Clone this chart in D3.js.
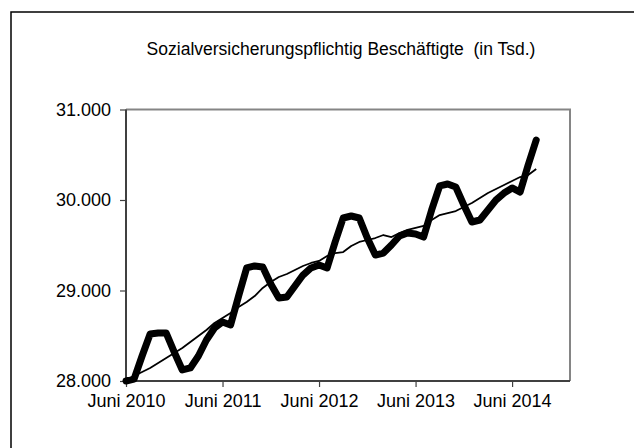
<!DOCTYPE html>
<html>
<head>
<meta charset="utf-8">
<script src="https://cdn.jsdelivr.net/npm/d3@7"></script>
<style>
  body { margin: 0; background: #fff; }
  svg text { font-family: "Liberation Sans", Arial, sans-serif; fill: #000; }
</style>
</head>
<body>
<svg id="chart" width="634" height="448"></svg>
<script>
// Monatswerte Juni 2010 .. September 2014 (in Tsd.)
const months = d3.range(52);
const original = [
  28000, 28020, 28276, 28519, 28530, 28530, 28320, 28122, 28144, 28276, 28453, 28586,
  28652, 28619, 28939, 29249, 29271, 29260, 29072, 28917, 28928, 29050, 29171, 29249,
  29282, 29249, 29536, 29801, 29823, 29801, 29580, 29392, 29414, 29503, 29602, 29635,
  29624, 29591, 29890, 30155, 30177, 30144, 29945, 29757, 29779, 29890, 30000, 30077,
  30133, 30088, 30387, 30663
];
const trend = [
  28022, 28055, 28099, 28144, 28199, 28254, 28309, 28365, 28431, 28497, 28564, 28641,
  28696, 28751, 28818, 28873, 28939, 29028, 29094, 29149, 29182, 29227, 29271, 29304,
  29326, 29381, 29414, 29425, 29492, 29536, 29558, 29580, 29613, 29591, 29635, 29669,
  29691, 29713, 29779, 29834, 29856, 29878, 29923, 29967, 30022, 30077, 30122, 30166,
  30210, 30254, 30276, 30343
];
const xTicks = [0, 12, 24, 36, 48];
const xLabels = ['Juni 2010', 'Juni 2011', 'Juni 2012', 'Juni 2013', 'Juni 2014'];
const yTicks = [28000, 29000, 30000, 31000];

const svg = d3.select('#chart');
const plot = { left: 126, right: 570, top: 109.5, bottom: 381 };

// outer chart border (only top and left visible in the frame)
svg.append('rect')
  .attr('x', 11).attr('y', 12)
  .attr('width', 700).attr('height', 500)
  .attr('fill', 'none')
  .attr('stroke', '#000')
  .attr('stroke-width', 1.5);

svg.append('text')
  .attr('x', 341).attr('y', 55)
  .attr('text-anchor', 'middle')
  .style('font-size', '17.5px')
  .style('white-space', 'pre')
  .text('Sozialversicherungspflichtig Beschäftigte  (in Tsd.)');

const x = d3.scaleLinear().domain([0, 55.2]).range([plot.left, plot.right]);
const y = d3.scaleLinear().domain([28000, 31000]).range([plot.bottom, plot.top]);

// plot frame: top and right in grey
svg.append('path')
  .attr('d', `M${plot.left},${plot.top}H${plot.right}V${plot.bottom}`)
  .attr('fill', 'none')
  .attr('stroke', '#858585')
  .attr('stroke-width', 2);

const fmt = d3.formatLocale({ decimal: ',', thousands: '.', grouping: [3], currency: ['', '€'] }).format(',.0f');

const yAxis = svg.append('g')
  .attr('transform', `translate(${plot.left},0)`)
  .call(d3.axisLeft(y).tickValues(yTicks).tickFormat(fmt).tickSize(6).tickPadding(9));

const xAxis = svg.append('g')
  .attr('transform', `translate(0,${plot.bottom})`)
  .call(d3.axisBottom(x).tickValues(xTicks).tickFormat((d, i) => xLabels[i]).tickSize(6).tickPadding(6));

[yAxis, xAxis].forEach(g => {
  g.select('.domain').remove();
  g.selectAll('.tick line').attr('stroke', '#404040').attr('stroke-width', 1.2);
  g.selectAll('text').style('font-size', '18px');
});
xAxis.selectAll('text').attr('dy', '0.75em');

// left and bottom axis lines
svg.append('path')
  .attr('d', `M${plot.left},${plot.top}V${plot.bottom}H${plot.right}`)
  .attr('fill', 'none')
  .attr('stroke', '#404040')
  .attr('stroke-width', 2);

const line = (vals) => d3.line()
  .x((d, i) => x(months[i]))
  .y(d => y(d))(vals);

svg.append('path')
  .attr('d', line(original))
  .attr('fill', 'none')
  .attr('stroke', '#000')
  .attr('stroke-width', 7)
  .attr('stroke-linejoin', 'round')
  .attr('stroke-linecap', 'round');

svg.append('path')
  .attr('d', line(trend))
  .attr('fill', 'none')
  .attr('stroke', '#000')
  .attr('stroke-width', 1.8)
  .attr('stroke-linejoin', 'round');
</script>
</body>
</html>
